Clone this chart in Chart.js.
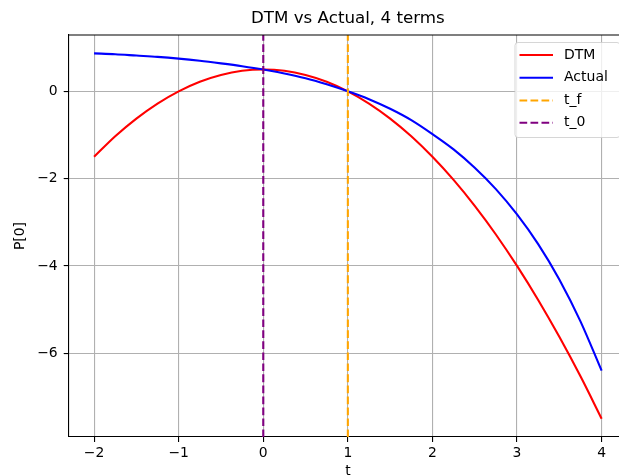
<!DOCTYPE html>
<html lang="en">
<head>
  <meta charset="UTF-8" />
  <title>DTM vs Actual, 4 terms</title>
  <script src="https://cdn.jsdelivr.net/npm/chart.js"></script>
  <style>
    html, body { margin: 0; padding: 0; background: #fff; overflow: hidden; }
    #wrap { width: 660px; height: 476px; }
  </style>
</head>
<body>
  <div id="wrap"><canvas id="dtmChart" width="660" height="476"></canvas></div>

  <script>
    // valores
    const tValues = [-2, -1.75, -1.5, -1.25, -1, -0.75, -0.5, -0.25, 0, 0.25, 0.5, 0.75, 1,
                     1.25, 1.5, 1.75, 2, 2.25, 2.5, 2.75, 3, 3.25, 3.5, 3.75, 4];
    const dtmValues = [-1.5, -1.03, -0.625, -0.28, 0, 0.22, 0.375, 0.47, 0.5, 0.47, 0.375, 0.22, 0,
                       -0.28, -0.625, -1.03, -1.5, -2.03, -2.625, -3.28, -4, -4.78, -5.625, -6.53, -7.5];
    const actualValues = [0.87, 0.85, 0.82, 0.79, 0.75, 0.70, 0.64, 0.575, 0.5, 0.41, 0.30, 0.16, 0,
                          -0.18, -0.40, -0.66, -0.98, -1.33, -1.75, -2.24, -2.82, -3.50, -4.31, -5.27, -6.4];
    const tFinal = 1;
    const tStart = 0;
    const xTicks = [-2, -1, 0, 1, 2, 3, 4];
    const yTicks = [-6, -4, -2, 0];
    const xRange = [-2.3, 4.3];
    const yRange = [-7.92, 1.29];

    const FONT = 'DejaVu Sans';
    const fmt = v => (v < 0 ? '\u2212' + Math.abs(v) : String(v));

    const toPoints = vals => tValues.map((t, i) => ({ x: t, y: vals[i] }));
    const vline = t => [{ x: t, y: yRange[0] }, { x: t, y: yRange[1] }];

    const datasets = [
      { label: 'DTM', data: toPoints(dtmValues), borderColor: '#ff0000', order: 4 },
      { label: 'Actual', data: toPoints(actualValues), borderColor: '#0000ff', order: 3 },
      { label: 't_f', data: vline(tFinal), borderColor: '#ffa500', borderDash: [7.7, 3.3], order: 2 },
      { label: 't_0', data: vline(tStart), borderColor: '#800080', borderDash: [7.7, 3.3], order: 1 },
    ].map(d => Object.assign({ borderWidth: 2.1, pointRadius: 0, fill: false, cubicInterpolationMode: 'monotone' }, d));

    // marco superior/derecho y leyenda dentro del eje, como matplotlib
    const framePlugin = {
      id: 'frame',
      afterDraw(chart) {
        const c = chart.ctx, a = chart.chartArea;
        c.save();
        c.strokeStyle = '#000';
        c.lineWidth = 1.1;
        c.beginPath();
        c.moveTo(a.left, a.top); c.lineTo(a.right, a.top); c.lineTo(a.right, a.bottom);
        c.stroke();

        // leyenda
        c.beginPath();
        c.roundRect(515, 42.5, 105, 95, 3);
        c.fillStyle = 'rgba(255,255,255,0.8)';
        c.fill();
        c.strokeStyle = 'rgba(204,204,204,0.8)';
        c.lineWidth = 1;
        c.stroke();

        const rows = [55, 77.7, 100.5, 122.7];
        chart.data.datasets.forEach((ds, i) => {
          const y = rows[i];
          c.beginPath();
          c.setLineDash(ds.borderDash || []);
          c.strokeStyle = ds.borderColor;
          c.lineWidth = 2.1;
          c.moveTo(519.5, y); c.lineTo(553, y);
          c.stroke();
          c.setLineDash([]);
          c.fillStyle = '#000';
          c.font = '14px "' + FONT + '"';
          c.textBaseline = 'middle';
          c.textAlign = 'left';
          c.fillText(ds.label, 564, y);
        });
        c.restore();
      }
    };

    const axisCommon = {
      type: 'linear',
      grid: { color: '#b0b0b0', lineWidth: 1.1, tickLength: 5, tickColor: '#000', tickWidth: 1.1 },
      border: { display: true, color: '#000', width: 1.1 },
      ticks: { callback: fmt, color: '#000', font: { family: FONT, size: 13.9 }, autoSkip: false, maxRotation: 0 },
    };

    new Chart(document.getElementById('dtmChart'), {
      type: 'line',
      data: { datasets: datasets },
      plugins: [framePlugin],
      options: {
        responsive: false,
        animation: false,
        layout: { padding: { left: 0, right: 33, top: 0, bottom: 0 } },
        scales: {
          x: Object.assign({}, axisCommon, {
            min: xRange[0], max: xRange[1],
            afterBuildTicks: s => { s.ticks = xTicks.map(v => ({ value: v })); },
            afterFit: s => { s.height = 39; },
            ticks: Object.assign({}, axisCommon.ticks, { padding: 3 }),
            title: { display: true, text: 't', color: '#000', font: { family: FONT, size: 13.9 }, padding: { top: 0, bottom: -4 } },
          }),
          y: Object.assign({}, axisCommon, {
            min: yRange[0], max: yRange[1],
            afterBuildTicks: s => { s.ticks = yTicks.map(v => ({ value: v })); },
            afterFit: s => { s.width = 68.7; },
            ticks: Object.assign({}, axisCommon.ticks, { padding: 6 }),
            title: { display: true, text: 'P[0]', color: '#000', font: { family: FONT, size: 13.9 }, padding: { top: 12, bottom: 0 } },
          }),
        },
        plugins: {
          legend: { display: false },
          tooltip: { enabled: false },
          title: {
            display: true,
            text: 'DTM vs Actual, 4 terms',
            color: '#000',
            fullSize: false,
            font: { family: FONT, size: 16.7, weight: 'normal' },
            padding: { top: 9, bottom: 6 },
          },
        },
      },
    });
  </script>
</body>
</html>
